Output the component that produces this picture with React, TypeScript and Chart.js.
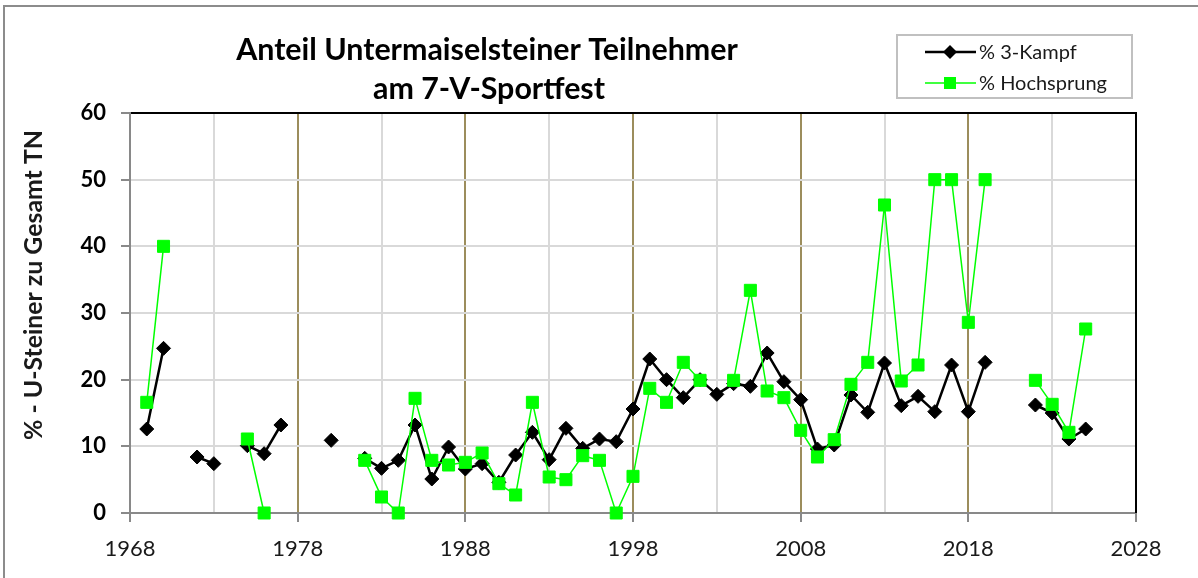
import React, { useEffect, useRef } from 'react';
import { Chart, registerables } from 'chart.js';

Chart.register(...registerables);

// ---------- data ----------
const years = [
  1969, 1970, 1971, 1972, 1973, 1974, 1975, 1976, 1977, 1978,
  1979, 1980, 1981, 1982, 1983, 1984, 1985, 1986, 1987, 1988,
  1989, 1990, 1991, 1992, 1993, 1994, 1995, 1996, 1997, 1998,
  1999, 2000, 2001, 2002, 2003, 2004, 2005, 2006, 2007, 2008,
  2009, 2010, 2011, 2012, 2013, 2014, 2015, 2016, 2017, 2018,
  2019, 2020, 2021, 2022, 2023, 2024, 2025,
];

const kampf: (number | null)[] = [
  12.6, 24.7, null, 8.4, 7.4, null, 10.1, 8.9, 13.2, null,
  null, 10.9, null, 8.2, 6.7, 7.9, 13.2, 5.1, 9.9, 6.6,
  7.4, 4.6, 8.7, 12.1, 8.0, 12.7, 9.7, 11.1, 10.7, 15.6,
  23.1, 20.0, 17.3, 20.0, 17.8, 19.4, 19.0, 24.0, 19.7, 17.0,
  9.6, 10.2, 17.7, 15.1, 22.5, 16.1, 17.5, 15.2, 22.2, 15.2,
  22.6, null, null, 16.2, 15.0, 11.1, 12.6,
];

const hochsprung: (number | null)[] = [
  16.6, 40.0, null, null, null, null, 11.1, 0, null, null,
  null, null, null, 7.9, 2.4, 0, 17.2, 7.9, 7.2, 7.6,
  9.0, 4.4, 2.7, 16.6, 5.4, 5.0, 8.6, 7.9, 0, 5.5,
  18.7, 16.6, 22.6, 19.9, null, 19.9, 33.4, 18.3, 17.3, 12.4,
  8.4, 11.0, 19.3, 22.6, 46.2, 19.8, 22.2, 50.0, 50.0, 28.6,
  50.0, null, null, 19.9, 16.3, 12.1, 27.6,
];

const seriesLabels = ['% 3-Kampf', '% Hochsprung'];
const xGridYears = [1968, 1973, 1978, 1983, 1988, 1993, 1998, 2003, 2008, 2013, 2018, 2023, 2028];
const xLabelYears = [1968, 1978, 1988, 1998, 2008, 2018, 2028];
const yTicks = [0, 10, 20, 30, 40, 50, 60];
const titleLines = ['Anteil Untermaiselsteiner Teilnehmer', 'am 7-V-Sportfest'];
const yTitle = '% - U-Steiner zu Gesamt TN';

// ---------- styles ----------
const FONT = 'Lato';
const BLACK = '#000000';
const GREEN = '#00FF00';
const OLIVE = '#9C8D5C';
const LIGHT = '#D9D9D9';
const AXIS = '#898989';

function fitSize(ctx: CanvasRenderingContext2D, text: string, weight: string, width: number) {
  ctx.font = `${weight} 100px ${FONT}`;
  const w = ctx.measureText(text).width;
  return (100 * width) / w;
}

const decorPlugin = {
  id: 'decor',
  beforeDraw(chart: any) {
    const ctx: CanvasRenderingContext2D = chart.ctx;
    ctx.save();
    ctx.fillStyle = '#ffffff';
    ctx.fillRect(0, 0, chart.width, chart.height);
    ctx.strokeStyle = '#8C8C8C';
    ctx.lineWidth = 2;
    ctx.beginPath();
    ctx.moveTo(4, chart.height);
    ctx.lineTo(4, 6);
    ctx.lineTo(chart.width, 6);
    ctx.stroke();
    ctx.restore();
  },
  beforeDatasetsDraw(chart: any) {
    const ctx: CanvasRenderingContext2D = chart.ctx;
    const a = chart.chartArea;
    ctx.save();
    ctx.strokeStyle = BLACK;
    ctx.lineWidth = 2;
    ctx.beginPath();
    ctx.moveTo(a.left + 1, a.top);
    ctx.lineTo(a.right, a.top);
    ctx.lineTo(a.right, a.bottom);
    ctx.stroke();
    ctx.restore();
  },
  afterDraw(chart: any) {
    const ctx: CanvasRenderingContext2D = chart.ctx;
    ctx.save();
    // title
    const ts = fitSize(ctx, titleLines[0], 'bold', 502);
    ctx.font = `bold ${ts}px ${FONT}`;
    ctx.fillStyle = BLACK;
    ctx.textAlign = 'center';
    ctx.textBaseline = 'alphabetic';
    ctx.fillText(titleLines[0], 487, 60);
    ctx.fillText(titleLines[1], 489, 99);

    // y axis title
    const ys = fitSize(ctx, yTitle, 'bold', 310);
    ctx.save();
    ctx.translate(42, 285);
    ctx.rotate(-Math.PI / 2);
    ctx.font = `bold ${ys}px ${FONT}`;
    ctx.fillStyle = '#1A1A1A';
    ctx.textAlign = 'center';
    ctx.textBaseline = 'alphabetic';
    ctx.fillText(yTitle, 0, 0);
    ctx.restore();

    // legend
    ctx.strokeStyle = '#C0C0C0';
    ctx.lineWidth = 2;
    ctx.strokeRect(897, 35, 235, 63);
    const ls = fitSize(ctx, seriesLabels[1], 'normal', 128);
    const rows = [52, 83];
    chart.data.datasets.forEach((ds: any, i: number) => {
      const y = rows[i];
      ctx.strokeStyle = ds.borderColor;
      ctx.lineWidth = ds.borderWidth;
      ctx.beginPath();
      ctx.moveTo(925, y);
      ctx.lineTo(976, y);
      ctx.stroke();
      ctx.fillStyle = ds.backgroundColor;
      ctx.beginPath();
      if (ds.pointStyle === 'rectRot') {
        const r = 7;
        ctx.moveTo(950 - r, y);
        ctx.lineTo(950, y - r);
        ctx.lineTo(950 + r, y);
        ctx.lineTo(950, y + r);
        ctx.closePath();
      } else {
        ctx.rect(944, y - 6, 12, 12);
      }
      ctx.fill();
      ctx.font = `normal ${ls}px ${FONT}`;
      ctx.fillStyle = '#1A1A1A';
      ctx.textAlign = 'left';
      ctx.textBaseline = 'middle';
      ctx.fillText(ds.label, 979, y + 1);
    });
    ctx.restore();
  },
};

export default function App() {
  const canvasRef = useRef<HTMLCanvasElement | null>(null);

  useEffect(() => {
    document.body.style.margin = '0';
    const canvas = canvasRef.current;
    if (!canvas) return;
    const isMajor = (v: number) => xLabelYears.includes(v);
    const chart = new Chart(canvas, {
      type: 'line',
      data: {
        datasets: [
          {
            label: seriesLabels[0],
            data: years.map((yr, i) => ({ x: yr, y: kampf[i] })) as any,
            borderColor: BLACK,
            backgroundColor: BLACK,
            borderWidth: 2.5,
            pointStyle: 'rectRot',
            pointRadius: 7,
            pointBorderWidth: 1,
            pointBorderColor: BLACK,
            pointBackgroundColor: BLACK,
            spanGaps: false,
            tension: 0,
            clip: false as any,
            order: 1,
          },
          {
            label: seriesLabels[1],
            data: years.map((yr, i) => ({ x: yr, y: hochsprung[i] })) as any,
            borderColor: GREEN,
            backgroundColor: GREEN,
            borderWidth: 1.5,
            pointStyle: 'rect',
            pointRadius: 8.5,
            pointBorderWidth: 1,
            pointBorderColor: GREEN,
            pointBackgroundColor: GREEN,
            spanGaps: false,
            tension: 0,
            clip: false as any,
            order: 0,
          },
        ],
      },
      options: {
        responsive: false,
        animation: false,
        events: [],
        layout: { padding: { top: 113, right: 62, bottom: 0, left: 0 } },
        plugins: {
          legend: { display: false },
          title: { display: false },
          tooltip: { enabled: false },
        },
        scales: {
          x: {
            type: 'linear',
            min: 1968,
            max: 2028,
            afterBuildTicks: (s: any) => {
              s.ticks = xGridYears.map((v) => ({ value: v }));
            },
            afterFit: (s: any) => {
              s.height = 65;
            },
            ticks: {
              autoSkip: false,
              maxRotation: 0,
              minRotation: 0,
              padding: 14,
              color: '#1A1A1A',
              font: { family: FONT, size: 22 },
              callback: (v: any) => (isMajor(Number(v)) ? String(v) : ''),
            },
            grid: {
              color: (c: any) => (c.tick && isMajor(c.tick.value) ? OLIVE : LIGHT),
              lineWidth: 2,
              tickLength: 9,
              tickColor: (c: any) => (c.tick && isMajor(c.tick.value) ? AXIS : 'rgba(0,0,0,0)'),
            },
            border: { color: AXIS, width: 2 },
          },
          y: {
            min: 0,
            max: 60,
            afterBuildTicks: (s: any) => {
              s.ticks = yTicks.map((v) => ({ value: v }));
            },
            afterFit: (s: any) => {
              s.width = 130;
            },
            ticks: {
              padding: 15,
              color: '#000000',
              font: { family: FONT, size: 22, weight: 'bold' },
            },
            grid: {
              color: LIGHT,
              lineWidth: 2,
              tickLength: 9,
              tickColor: AXIS,
            },
            border: { color: AXIS, width: 2 },
          },
        },
      } as any,
      plugins: [decorPlugin],
    });
    return () => chart.destroy();
  }, []);

  return (
    <div style={{ width: 1198, height: 578, position: 'relative' }}>
      <canvas ref={canvasRef} width={1198} height={578} style={{ display: 'block' }} />
    </div>
  );
}
